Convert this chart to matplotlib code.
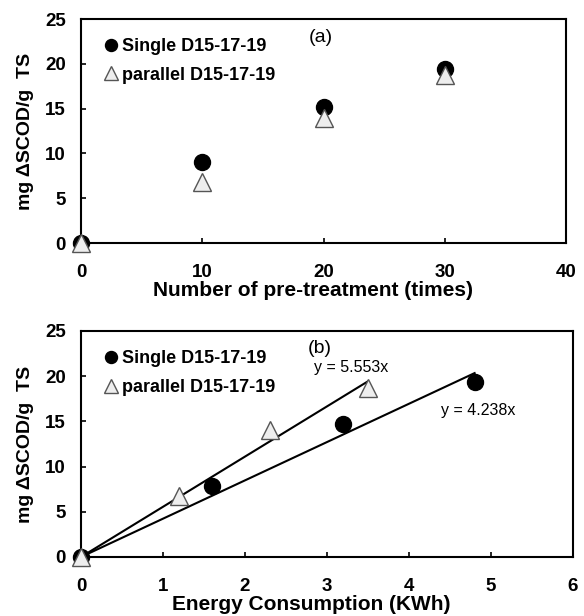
import matplotlib.pyplot as plt
import numpy as np

plt.rcParams['font.family'] = ['Liberation Sans', 'DejaVu Sans']

# (a) pre-treatment number
times = [0, 10, 20, 30]
single_a = [0, 9.0, 15.2, 19.4]
parallel_a = [0, 6.8, 14.0, 18.7]

# (b) energy consumption
energy_single = [0, 1.6, 3.2, 4.8]
single_b = [0, 7.8, 14.7, 19.4]
energy_parallel = [0, 1.2, 2.3, 3.5]
parallel_b = [0, 6.8, 14.0, 18.7]
slope_single = 4.238
slope_parallel = 5.553

fig = plt.figure(figsize=(5.84, 6.16), dpi=100)
ax1 = fig.add_axes([0.1387, 0.6055, 0.8305, 0.3636])
ax2 = fig.add_axes([0.1387, 0.0958, 0.8425, 0.3669])

circ = dict(marker='o', ls='none', color='black', markersize=11.5)
tri = dict(marker='^', ls='none', markerfacecolor='#eeeeee', markeredgecolor='#555555',
           markeredgewidth=1, markersize=12.5)

def style(ax, xlim, xticks, xlabel, xlab_x):
    ax.set_xlim(xlim)
    ax.set_ylim(0, 25)
    ax.set_xticks(xticks)
    ax.set_yticks([0, 5, 10, 15, 20, 25])
    ax.tick_params(direction='in', labelsize=13.5, width=1.2, length=3.5)
    ax.tick_params(axis='x', pad=15)
    ax.tick_params(axis='y', pad=11)
    for lab in ax.get_xticklabels() + ax.get_yticklabels():
        lab.set_fontweight('bold')
    for s in ax.spines.values():
        s.set_linewidth(1.5)
    ax.set_xlabel(xlabel, fontsize=15, fontweight='bold', labelpad=0)
    ax.xaxis.set_label_coords(xlab_x, -0.17)
    ax.set_ylabel('mg \u0394SCOD/g  TS', fontsize=14, fontweight='bold', labelpad=8)
    leg = ax.legend(loc='upper left', bbox_to_anchor=(0.043, 0.915), frameon=False,
                    fontsize=13, handlelength=1.0, handletextpad=0.1,
                    markerscale=0.75, borderaxespad=0, borderpad=0, labelspacing=0.65)
    for t in leg.get_texts():
        t.set_fontweight('bold')

ax1.plot(times, single_a, label='Single D15-17-19', clip_on=False, zorder=3, **circ)
ax1.plot(times, parallel_a, label='parallel D15-17-19', clip_on=False, zorder=4, **tri)
style(ax1, (0, 40), [0, 10, 20, 30, 40], 'Number of pre-treatment (times)', 0.478)
ax1.text(19.8, 22.9, '(a)', fontsize=14, ha='center', va='center')

xs = np.array([0, energy_single[-1]])
xp = np.array([0, energy_parallel[-1]])
ax2.plot(xs, slope_single * xs, color='black', lw=1.5, zorder=2)
ax2.plot(xp, slope_parallel * xp, color='black', lw=1.5, zorder=2)
ax2.plot(energy_single, single_b, label='Single D15-17-19', clip_on=False, zorder=3, **circ)
ax2.plot(energy_parallel, parallel_b, label='parallel D15-17-19', clip_on=False, zorder=4, **tri)
style(ax2, (0, 6), [0, 1, 2, 3, 4, 5, 6], 'Energy Consumption (KWh)', 0.467)
ax2.text(2.91, 23.1, '(b)', fontsize=14, ha='center', va='center')
ax2.text(3.30, 21.0, 'y = 5.553x', fontsize=11.5, ha='center', va='center')
ax2.text(4.84, 16.2, 'y = 4.238x', fontsize=11.5, ha='center', va='center')

fig.savefig('out.png', dpi=100)
